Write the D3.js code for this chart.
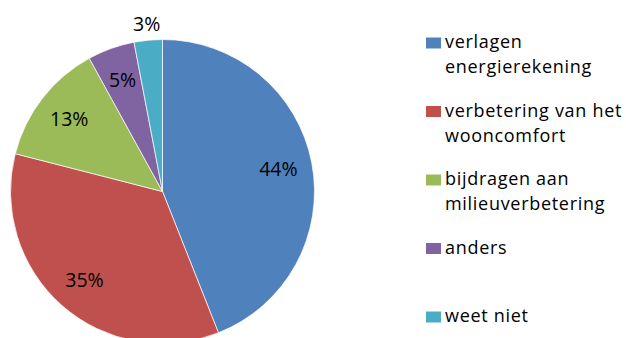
<!DOCTYPE html>
<html>
  <body style="margin:0;background:#fff;">
    <style>
      svg { display: block; }
      text { font-family: "Open Sans", sans-serif; fill: #000; }
    </style>
    <script src="https://d3js.org/d3.v7.min.js"></script>
    <script type="text/javascript">
      // pie chart with a legend on the right
      const categories = [
        'verlagen\nenergierekening',
        'verbetering van het\nwooncomfort',
        'bijdragen aan\nmilieuverbetering',
        'anders',
        'weet niet'
      ];
      const values = [44, 35, 13, 5, 3];
      const colors = ['#4F81BD', '#C0504D', '#9BBB59', '#8064A2', '#4BACC6'];

      const width = 626;
      const height = 338;
      const cx = 162.5;
      const cy = 191.5;
      const radius = 152;

      const svg = d3.select('body')
        .append('svg')
        .attr('width', width)
        .attr('height', height);

      const pie = d3.pie().sort(null).value((d) => d);
      const arcs = pie(values);

      const arc = d3.arc().innerRadius(0).outerRadius(radius);
      const labelArc = d3.arc().innerRadius(118).outerRadius(118);
      const outsideArc = d3.arc().innerRadius(168).outerRadius(168);

      const g = svg.append('g').attr('transform', `translate(${cx},${cy})`);

      g.selectAll('path')
        .data(arcs)
        .enter()
        .append('path')
        .attr('d', arc)
        .attr('fill', (d, i) => colors[i])
        .attr('stroke', '#ffffff')
        .attr('stroke-width', 0.7);

      g.selectAll('text.pct')
        .data(arcs)
        .enter()
        .append('text')
        .attr('class', 'pct')
        .attr('transform', (d) => {
          const c = d.data < 4 ? outsideArc.centroid(d) : labelArc.centroid(d);
          return `translate(${c[0]},${c[1]})`;
        })
        .attr('text-anchor', 'middle')
        .attr('dy', '0.35em')
        .style('font-size', '19.5px')
        .text((d) => d.data + '%');

      // legend
      const legend = svg.append('g');
      const item = legend.selectAll('g')
        .data(categories)
        .enter()
        .append('g')
        .attr('transform', (d, i) => `translate(426,${48 + i * 68.5})`);

      item.append('rect')
        .attr('x', 0)
        .attr('y', -10.5)
        .attr('width', 15)
        .attr('height', 11)
        .attr('fill', (d, i) => colors[i]);

      item.each(function(d) {
        const lines = d.split('\n');
        const t = d3.select(this).append('text')
          .style('font-size', '18px')
          .style('letter-spacing', '0.7px');
        lines.forEach((line, j) => {
          t.append('tspan')
            .attr('x', 19)
            .attr('y', j * 25)
            .text(line);
        });
      });
    </script>
  </body>
</html>
